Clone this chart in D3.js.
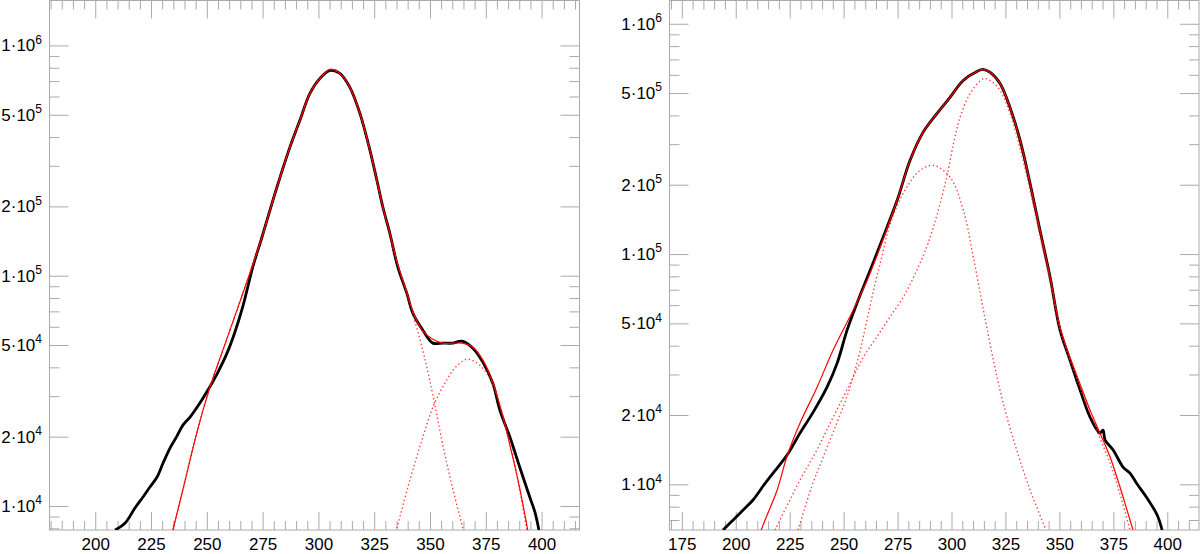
<!DOCTYPE html>
<html>
<head>
<meta charset="utf-8">
<script src="https://cdn.jsdelivr.net/npm/d3@7"></script>
<style>
  body { margin: 0; background: #fff; }
  text { font-family: "Liberation Sans", Arial, Helvetica, sans-serif; fill: #000; }
</style>
</head>
<body>
<svg id="chart" width="1200" height="554"></svg>
<script>
// ---- left panel: measured spectrum, total fit, two components ----
const leftData = [[208.9,7866],[213.4,8437],[217.8,9802],[221.4,10940],[224.5,12090],[227.7,13360],[230.4,15370],[233.5,17850],[236.6,20120],[239.3,22460],[242.5,24330],[246.9,27990],[250.5,31870],[254.6,37500],[259.0,46000],[262.6,57000],[266.2,74000],[270.7,110000],[274.7,146900],[279.2,206300],[282.8,267500],[287.2,360900],[291.7,472700],[296.2,619200],[300.7,719300],[305.2,779000],[309.6,756000],[314.1,657300],[318.6,507000],[323.1,350300],[326.2,259600],[328.9,198200],[332.0,152900],[335.6,108900],[339.6,83980],[342.3,68770],[346.8,58010],[351.3,50960],[355.8,50960],[360.2,50960],[364.3,51980],[369.2,48470],[373.7,42140],[378.1,34170],[381.3,26100],[385.8,19920],[390.2,14760],[394.7,10940],[397.0,9419],[398.8,7866]];
const leftFit = [[234.8,7866],[240.2,12830],[245.6,20940],[251.4,32840],[257.2,47510],[263.5,70850],[270.2,108900],[274.7,146900],[279.2,206300],[282.8,267500],[287.2,360900],[291.7,472700],[296.2,619200],[300.7,719300],[305.2,786800],[309.6,756000],[314.1,657300],[318.6,507000],[323.1,350300],[326.2,259600],[328.9,198200],[332.0,152900],[335.6,111100],[339.6,84820],[342.3,70150],[346.8,57420],[351.3,53030],[355.8,50960],[360.2,50960],[364.3,50960],[369.2,48950],[373.7,42990],[378.1,34510],[381.3,27430],[385.8,18390],[390.2,11970],[393.8,7866]];
const leftComp1 = [[234.8,7866],[240.2,12830],[245.6,20940],[251.4,32840],[257.2,47510],[263.5,70850],[270.2,108900],[274.7,146900],[279.2,206300],[282.8,267500],[287.2,360900],[291.7,472700],[296.2,619200],[300.7,719300],[305.2,786800],[309.6,756000],[314.1,657300],[318.6,507000],[323.1,350300],[326.2,259600],[328.9,198200],[332.0,152900],[333.4,131600],[337.8,96000],[341.0,75000],[345.5,53000],[348.6,40000],[351.3,30310],[355.3,19330],[359.8,12330],[364.7,8025]];
const leftComp2 = [[335.2,8025],[341.0,12970],[346.4,19330],[351.7,27430],[356.7,34170],[361.1,39690],[364.7,42560],[366.5,43410],[368.7,42990],[372.3,40890],[375.9,37010],[379.0,31870],[382.6,24820],[386.7,17500],[390.2,11730],[393.4,7866]];

// ---- right panel ----
const rightData = [[194.1,6334],[198.8,7000],[203.4,7735],[208.0,8550],[212.7,9831],[217.3,11190],[223.8,13400],[229.8,16700],[235.9,20590],[242.3,26430],[247.0,33600],[251.6,46710],[256.2,61160],[262.3,85040],[268.3,118300],[274.8,171200],[280.8,255200],[286.8,337600],[293.3,408100],[299.3,479000],[305.4,567500],[311.8,621000],[314.6,633500],[317.9,614800],[322.5,550800],[327.1,433400],[331.8,311700],[336.4,202900],[341.0,126900],[345.7,79300],[350.3,46710],[354.9,34620],[359.6,25660],[364.2,19590],[368.8,16700],[370.2,17200],[371.2,15570],[374.9,14090],[379.5,11890],[382.7,11190],[386.0,10030],[390.6,8722],[395.3,7358],[397.6,6334]];
const rightFit = [[211.8,6334],[213.6,7000],[219.2,9447],[223.8,13270],[229.8,18450],[237.7,26430],[245.1,38240],[254.4,57050],[260.9,76980],[266.9,107000],[274.8,171200],[280.8,255200],[286.8,337600],[293.3,408100],[299.3,479000],[305.4,567500],[311.8,621000],[314.6,633500],[317.9,614800],[322.5,550800],[327.1,433400],[331.8,311700],[336.4,202900],[341.0,126900],[345.7,79300],[350.3,48120],[354.9,35670],[359.6,27240],[364.2,21000],[368.8,16700],[373.5,13140],[378.1,9734],[382.7,7000],[384.1,6334]];
const rightCompA = [[228.9,6334],[235.2,9763],[240.6,13180],[246.8,18390],[251.5,23990],[255.3,31320],[258.4,40890],[261.5,55200],[264.6,74470],[267.7,97140],[270.7,126900],[274.6,160100],[279.3,195500],[285.4,230900],[291.6,242700],[299.3,216000],[305.5,154900],[310.1,97140],[314.8,57050],[319.4,34620],[324.0,22460],[330.2,14090],[336.4,9447],[343.8,6334]];
const rightCompB = [[218.2,6334],[229.8,10440],[237.6,14090],[243.7,18390],[249.9,23990],[254.5,29300],[259.2,35770],[265.4,43690],[271.5,53350],[277.7,65150],[283.9,85040],[288.5,107300],[291.6,131100],[294.7,165600],[297.8,216000],[300.9,301600],[304.0,393400],[308.6,496900],[314.8,577300],[317.9,567500],[322.5,513500],[327.1,408100],[331.8,287700],[336.4,189200],[341.0,119500],[345.7,75450],[350.3,46710],[354.9,34620],[359.6,26170],[364.2,20380],[368.8,15880],[373.5,12370],[378.1,9076],[382.7,6334]];

const leftXTicks = [200, 225, 250, 275, 300, 325, 350, 375, 400];
const rightXTicks = [175, 200, 225, 250, 275, 300, 325, 350, 375, 400];
const yLabelTicks = [1e4, 2e4, 5e4, 1e5, 2e5, 5e5, 1e6];

const svg = d3.select('#chart');
const gray = '#aaaaaa';

function panel(opt) {
  const x = d3.scaleLinear().domain(opt.xDomain).range([opt.left, opt.right]);
  const y = d3.scaleLog().domain(opt.yDomain).range([opt.bottom, opt.top]);
  const g = svg.append('g');

  const clipId = 'clip' + opt.id;
  svg.append('clipPath').attr('id', clipId)
    .append('rect')
    .attr('x', opt.left).attr('y', opt.top)
    .attr('width', opt.right - opt.left).attr('height', opt.bottom - opt.top);

  // x ticks every 5, long every 25
  const xMinor = d3.range(Math.ceil(opt.xDomain[0] / 5) * 5, opt.xDomain[1], 5).filter(v => v % 25 !== 0);
  const xMajor = d3.range(Math.ceil(opt.xDomain[0] / 25) * 25, opt.xDomain[1], 25);
  const tidy = a => a.call(s => s.select('.domain').remove())
    .call(s => s.selectAll('line').attr('stroke', gray))
    .call(s => s.selectAll('text').style('font-size', '17px'));

  g.append('g').attr('transform', `translate(0,${opt.bottom})`)
    .call(d3.axisBottom(x).tickValues(xMinor).tickSize(-9).tickFormat('')).call(tidy);
  g.append('g').attr('transform', `translate(0,${opt.bottom})`)
    .call(d3.axisBottom(x).tickValues(xMajor).tickSize(-18).tickPadding(7.5)
      .tickFormat(v => opt.xLabels.includes(v) ? d3.format('d')(v) : '')).call(tidy);
  g.append('g').attr('transform', `translate(0,${opt.top})`)
    .call(d3.axisTop(x).tickValues(xMinor).tickSize(-9).tickFormat('')).call(tidy);
  g.append('g').attr('transform', `translate(0,${opt.top})`)
    .call(d3.axisTop(x).tickValues(xMajor).tickSize(-18).tickFormat('')).call(tidy);

  // y ticks: 1,2,5 long, others short
  const yAll = [];
  for (let k = 3; k <= 6; k++) for (let m = 1; m <= 9; m++) {
    const v = m * Math.pow(10, k);
    if (v >= opt.yDomain[0] && v <= opt.yDomain[1]) yAll.push(v);
  }
  const yMajor = yAll.filter(v => yLabelTicks.includes(v));
  const yMinor = yAll.filter(v => !yLabelTicks.includes(v));
  [[d3.axisLeft, opt.left], [d3.axisRight, opt.right]].forEach(([ax, pos]) => {
    g.append('g').attr('transform', `translate(${pos},0)`)
      .call(ax(y).tickValues(yMinor).tickSize(-10).tickFormat('')).call(tidy);
    g.append('g').attr('transform', `translate(${pos},0)`)
      .call(ax(y).tickValues(yMajor).tickSize(-19).tickFormat('')).call(tidy);
  });

  // y labels m·10^k
  yMajor.forEach(v => {
    const k = Math.floor(Math.log10(v) + 1e-9);
    const m = Math.round(v / Math.pow(10, k));
    const t = g.append('text')
      .attr('x', opt.left - 7.5).attr('y', y(v) + 6)
      .attr('text-anchor', 'end').style('font-size', '17px');
    t.append('tspan').text(m + '\u00b710');
    t.append('tspan').attr('dy', -7.8).style('font-size', '12px').text(k);
  });

  // frame
  g.append('rect')
    .attr('x', opt.left).attr('y', opt.top)
    .attr('width', opt.right - opt.left).attr('height', opt.bottom - opt.top)
    .attr('fill', 'none').attr('stroke', gray).attr('stroke-width', 1);

  const line = d3.line().x(d => x(d[0])).y(d => y(d[1])).curve(d3.curveCatmullRom);
  const plot = g.append('g').attr('clip-path', `url(#${clipId})`);

  plot.append('path').datum(opt.data).attr('d', line)
    .attr('fill', 'none').attr('stroke', '#000').attr('stroke-width', 2.8)
    .attr('stroke-linejoin', 'round');
  opt.comps.forEach(c => {
    plot.append('path').datum(c).attr('d', line)
      .attr('fill', 'none').attr('stroke', '#ff2020').attr('stroke-opacity', 0.85)
      .attr('stroke-width', 1.4).attr('stroke-dasharray', '1.4 2.6');
  });
  plot.append('path').datum(opt.fit).attr('d', line)
    .attr('fill', 'none').attr('stroke', '#ff0000').attr('stroke-width', 1.2);
}

panel({
  id: 'L', left: 49.5, right: 579.5, top: 0.5, bottom: 530,
  xDomain: [179.5, 417], yDomain: [7866, 1.567e6], xLabels: leftXTicks,
  data: leftData, fit: leftFit, comps: [leftComp1, leftComp2]
});
panel({
  id: 'R', left: 669.5, right: 1199, top: 0.5, bottom: 530,
  xDomain: [169.3, 414.7], yDomain: [6334, 1.262e6], xLabels: rightXTicks,
  data: rightData, fit: rightFit, comps: [rightCompA, rightCompB]
});
</script>
</body>
</html>
